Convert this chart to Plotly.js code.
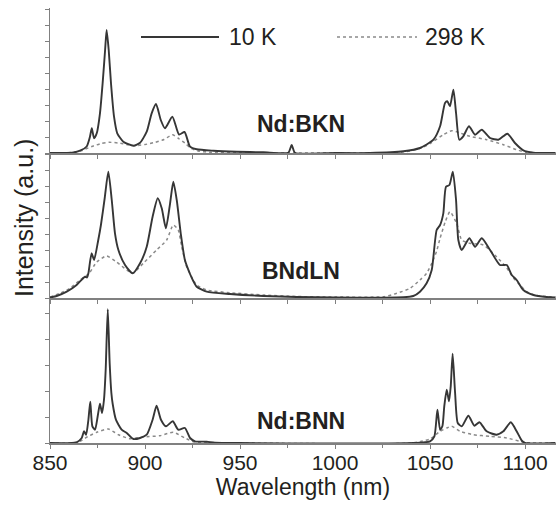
<!DOCTYPE html>
<html>
<head>
<meta charset="utf-8">
<script src="https://cdn.plot.ly/plotly-3.0.1.min.js"></script>
<style>html,body{margin:0;padding:0;background:#fff;}#chart{width:556px;height:510px;}</style>
</head>
<body>
<div id="chart"></div>
<script>
// ---- Data (wavelength in nm, intensity in arbitrary units) ----
const seriesNames = ["10 K", "298 K"];
const panelLabels = ["Nd:BKN", "BNdLN", "Nd:BNN"];
const xTickVals = [850, 900, 950, 1000, 1050, 1100];
const xTickText = ["850", "900", "950", "1000", "1050", "1100"];

// Nd:BKN, 10 K
const bkn10_wl  = [850,857,862.3,865.8,869.3,871,872,873.2,874.6,876.3,877.7,879,879.8,880.9,882.1,883.7,885.4,888.6,893.9,897.4,900.9,903.5,905.8,908.3,910.5,914.4,917.9,920.8,923.7,927.2,936,948.3,962.3,975.4,977.2,978.9,1000,1018.4,1036,1044.7,1051.8,1055.3,1057.9,1059.1,1060.5,1062.3,1063.7,1065.4,1067.5,1070.5,1073.7,1077.2,1081.6,1086,1090.7,1094.7,1099.1,1104.4,1116];
const bkn10_int = [0,0,0.5,2.3,6.5,16,24.7,14.7,19.7,39.7,69.7,103,123,103,69.7,36.3,19.7,11.3,7.3,10.3,21.3,39.7,49,33,24.7,36.3,18.5,21,6.3,3.7,2.3,1.3,0.7,0.3,8,0.3,0,0,1.7,5,13.3,26.7,50,51.7,46.7,63.3,40,13.3,16.7,26.7,18.3,23.3,15,13.3,19.3,10,2.7,0.3,0];
// Nd:BKN, 298 K
const bkn298_wl  = [850,860,866,872,877,881,886,891,895,900,905,910,914.5,918,921,924,928,935,950,975,1020,1033.6,1041.2,1046,1050,1057,1061.4,1065.8,1071,1079.8,1088.6,1095.6,1100.9,1116];
const bkn298_int = [0,0.3,2,6.5,9.5,10.7,10,8.3,7.3,8.5,10.5,13.5,18.3,14,10,5,2,0.7,0.2,0,0,0.5,2.7,5.5,9.3,18.3,22.3,20,16.7,13.3,8.3,3.3,0.7,0];

// BNdLN, 10 K
const bndln10_wl  = [850,853.5,858.8,864,868.4,869.5,870.2,871.9,873.2,875.4,876.8,878.8,880.7,882.5,884.2,886,889.5,893.5,897.4,900.9,904,906.7,908.8,911,913.2,914.9,916.7,918.8,921,923.7,925.4,927.2,932.5,944.7,962.3,979.8,1000,1025,1036,1041.2,1044.7,1048.2,1050.9,1053.5,1055.3,1057,1058.4,1060.2,1062,1063.7,1064.9,1066.7,1070.7,1073.7,1077.2,1081.6,1086.8,1090.4,1093,1095.6,1099.1,1104.4,1111.4,1116];
const bndln10_int = [0.5,2,6.3,13,21.3,20.5,24.7,44.7,38,58,73,100,126.3,98,64.7,48,33,24.7,34.7,51.3,81.3,99.7,89.7,69.7,94.7,116.3,98,64.7,38,24,17,11.3,6.3,4,2,1,0.5,0.3,0.7,2,6.3,14.7,28,68,73,84.7,111.3,113,126.3,98,58,48,59.7,51.3,59.7,48,33,33,23,18,8,3,1,0.5];
// BNdLN, 298 K
const bndln298_wl  = [850,855.3,860.5,865.8,870.6,874.6,879.8,885,890.4,893.5,899.1,906.1,911.4,914.9,917.5,919.3,921.9,924.6,927.2,932.5,944.7,962.3,979.8,1000,1025.4,1032.5,1039.5,1044.7,1048.2,1051,1053.5,1055.3,1058,1060.5,1064,1066.7,1071,1078,1085,1090.4,1093.9,1096.5,1100.9,1105,1111,1116];
const bndln298_int = [1,4.7,9.7,18,24.7,36,42,36,28,24.7,34.7,48,58,73,68,51.3,31.3,21,13,8,5.3,3,1.5,1,1.3,4.7,9.7,18,24.7,35,47,59.7,76,86.3,74.7,58,54.7,53,41.3,30,20,14.7,6.3,3,1.5,1];

// Nd:BNN, 10 K
const bnn10_wl  = [850,864,866.7,867.9,869,870.2,871.2,872.3,873.7,875.1,876.3,877.4,878.4,879.3,880.4,881.4,882.3,883,884.7,887.7,890.4,893.9,897.4,900.9,904,906.1,908.4,911,914.6,917.5,921,923.7,926.3,932.5,936.8,950,1041.2,1050,1052.3,1053.9,1055.3,1056.5,1057.5,1058.8,1060,1060.9,1061.9,1063.2,1064.6,1066.7,1070.2,1073.3,1076,1079.8,1085,1088.6,1092.5,1095.6,1098.2,1100,1116];
const bnn10_int = [0,0.7,5,11.7,8.3,23,41.3,16.7,13.3,26.7,39.3,30,43,73,133.7,80,50,39,23.3,13.3,10,4,5,8.3,23.3,37.3,23.3,16.7,21.7,13.3,15,5,1.7,1.3,0.3,0,0,1.7,6.7,33.3,13.3,16.7,36.7,53.3,41.7,56.7,89.3,50,20,16.7,27.3,17.3,20.7,11.7,8.3,11.7,20.7,11.7,2.7,0,0];
// Nd:BNN, 298 K
const bnn298_wl  = [850,862,865.8,870.2,874.6,880.7,886,892.1,899.1,907.9,914.9,921,925.4,930,950,1040,1050,1055.3,1058.8,1061.4,1065.8,1072.8,1081.6,1090.4,1097.4,1101,1116];
const bnn298_int = [0,0,1.7,6.7,10.7,14,8.3,4.3,6,7.3,10.7,5,1.3,0.3,0,0,4,11.7,15,16.7,11.7,8.3,6.7,5,1.7,0.3,0];

// ---- Layout helpers (pixel -> paper) ----
const W = 556, H = 510;
const M = {l: 50, r: 0, t: 8, b: 67};
const PW = W - M.l - M.r, PH = H - M.t - M.b;
const px = x => (x - M.l) / PW;
const py = y => (H - M.b - y) / PH;

const TXT = '#231f20';
const FONT = 'Liberation Sans, Arial, sans-serif';
const solid = {color: '#363636', width: 1.9, shape: 'spline', smoothing: 0.6};
const dotted = {color: '#8a8a8a', width: 1.5, dash: 'dot', shape: 'spline', smoothing: 0.6};

function tr(x, y, name, line, xa, ya) {
  return {x: x, y: y, name: name, type: 'scatter', mode: 'lines', line: line,
          xaxis: xa, yaxis: ya, showlegend: false, hoverinfo: 'skip'};
}
const data = [
  tr(bkn298_wl, bkn298_int, seriesNames[1], dotted, 'x3', 'y3'),
  tr(bkn10_wl, bkn10_int, seriesNames[0], solid, 'x3', 'y3'),
  tr(bndln298_wl, bndln298_int, seriesNames[1], dotted, 'x2', 'y2'),
  tr(bndln10_wl, bndln10_int, seriesNames[0], solid, 'x2', 'y2'),
  tr(bnn298_wl, bnn298_int, seriesNames[1], dotted, 'x', 'y'),
  tr(bnn10_wl, bnn10_int, seriesNames[0], solid, 'x', 'y')
];

const XR = [850, 1116.3];
const axLine = {showline: true, linecolor: '#808080', linewidth: 1.5, showgrid: false, zeroline: false,
                ticks: 'outside', ticklen: 4, tickcolor: '#808080', tickwidth: 1};
function yax(domain, dtick) {
  return Object.assign({}, axLine, {domain: domain, range: [0, 145], dtick: dtick, tick0: 0,
    showticklabels: false, fixedrange: true});
}
const layout = {
  width: W, height: H, margin: M,
  paper_bgcolor: '#fff', plot_bgcolor: '#fff',
  font: {family: FONT, color: TXT},
  xaxis: Object.assign({}, axLine, {range: XR, anchor: 'y', tickmode: 'array', tickvals: xTickVals, ticktext: xTickText,
    tickfont: {size: 21, family: FONT, color: TXT}, ticklen: 4, ticklabelstandoff: -4,
    minor: {dtick: 25, tick0: 850, ticks: 'outside', ticklen: 3, tickcolor: '#808080'},
    title: {text: 'Wavelength (nm)', font: {size: 23, family: FONT, color: TXT}, standoff: 4}}),
  xaxis2: Object.assign({}, axLine, {range: XR, anchor: 'y2', matches: 'x', showticklabels: false, dtick: 25, tick0: 850}),
  xaxis3: Object.assign({}, axLine, {range: XR, anchor: 'y3', matches: 'x', showticklabels: false, dtick: 25, tick0: 850}),
  yaxis: yax([0, 1/3], 26),
  yaxis2: yax([1/3, 2/3], 16),
  yaxis3: yax([2/3, 1], 16),
  shapes: [
    {type: 'line', xref: 'paper', yref: 'paper', x0: px(141), x1: px(219), y0: py(37), y1: py(37),
     line: {color: '#363636', width: 1.9}},
    {type: 'line', xref: 'paper', yref: 'paper', x0: px(337), x1: px(417), y0: py(37), y1: py(37),
     line: {color: '#8a8a8a', width: 1.5, dash: 'dot'}}
  ],
  annotations: [
    {text: seriesNames[0], xref: 'paper', yref: 'paper', x: px(227), y: py(37.5), xanchor: 'left', yanchor: 'middle',
     showarrow: false, font: {size: 23, family: FONT, color: TXT}},
    {text: seriesNames[1], xref: 'paper', yref: 'paper', x: px(423), y: py(37.5), xanchor: 'left', yanchor: 'middle',
     showarrow: false, font: {size: 23, family: FONT, color: TXT}},
    {text: '<b>' + panelLabels[0] + '</b>', xref: 'paper', yref: 'paper', x: px(301), y: py(124), xanchor: 'center', yanchor: 'middle',
     showarrow: false, font: {size: 23, family: FONT, color: TXT}},
    {text: '<b>' + panelLabels[1] + '</b>', xref: 'paper', yref: 'paper', x: px(301), y: py(271), xanchor: 'center', yanchor: 'middle',
     showarrow: false, font: {size: 23, family: FONT, color: TXT}},
    {text: '<b>' + panelLabels[2] + '</b>', xref: 'paper', yref: 'paper', x: px(301), y: py(421), xanchor: 'center', yanchor: 'middle',
     showarrow: false, font: {size: 23, family: FONT, color: TXT}},
    {text: 'Intensity (a.u.)', xref: 'paper', yref: 'paper', x: px(24), y: py(218), xanchor: 'center', yanchor: 'middle',
     textangle: -90, showarrow: false, font: {size: 25, family: FONT, color: TXT}}
  ]
};
Plotly.newPlot('chart', data, layout, {staticPlot: true, displayModeBar: false});
</script>
</body>
</html>
